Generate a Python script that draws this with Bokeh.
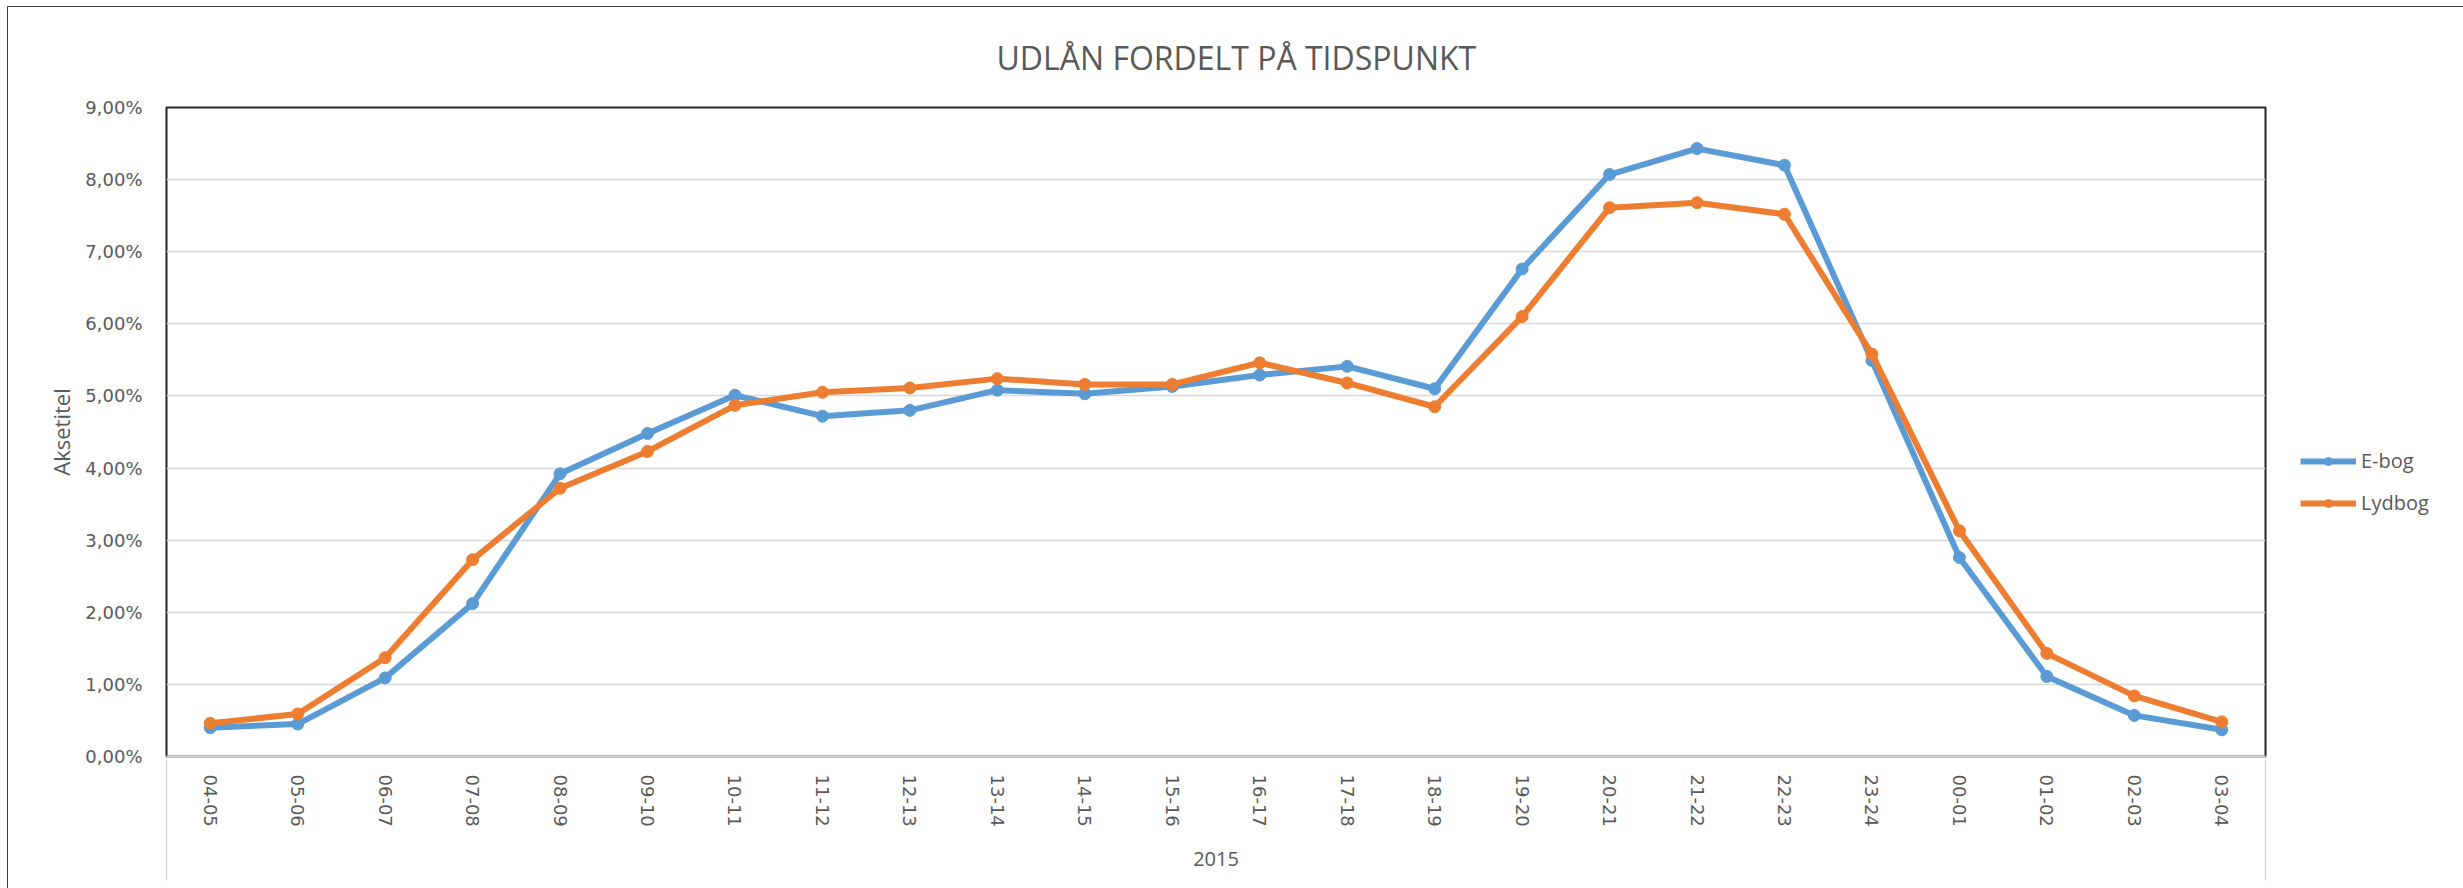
import math
from bokeh.plotting import figure
from bokeh.models import (ColumnDataSource, FactorRange, Range1d, LinearAxis,
                          FixedTicker, CustomJSTickFormatter, Legend, LegendItem)
from bokeh.embed import file_html
from bokeh.resources import INLINE

# ---- data ----
hours = ["04-05", "05-06", "06-07", "07-08", "08-09", "09-10", "10-11", "11-12",
         "12-13", "13-14", "14-15", "15-16", "16-17", "17-18", "18-19", "19-20",
         "20-21", "21-22", "22-23", "23-24", "00-01", "01-02", "02-03", "03-04"]
ebog = [0.40, 0.45, 1.09, 2.12, 3.92, 4.48, 5.01, 4.72, 4.80, 5.08, 5.03, 5.13,
        5.29, 5.41, 5.10, 6.76, 8.07, 8.43, 8.20, 5.49, 2.76, 1.11, 0.57, 0.37]
lydbog = [0.46, 0.59, 1.37, 2.73, 3.72, 4.23, 4.87, 5.05, 5.11, 5.24, 5.16, 5.16,
          5.46, 5.18, 4.85, 6.10, 7.61, 7.68, 7.52, 5.58, 3.13, 1.43, 0.84, 0.48]
year = "2015"
y_ticks = [0, 1, 2, 3, 4, 5, 6, 7, 8, 9]
title_text = "UDLÅN FORDELT PÅ TIDSPUNKT"
y_title = "Aksetitel"
series_names = ["E-bog", "Lydbog"]
colors = ["#5B9BD5", "#ED7D31"]

GREY_TEXT = "#595959"
GRID = "#d9d9d9"

src = ColumnDataSource(dict(hour=hours, ebog=ebog, lydbog=lydbog))

p = figure(width=2455, height=881, x_range=FactorRange(*hours), y_range=Range1d(0, 9),
           output_backend="svg", toolbar_location=None,
           min_border_left=158, min_border_right=198, min_border_top=100, min_border_bottom=132)
p.styles = {"box-shadow": "0 0 0 1px #404040", "margin-left": "8px", "margin-top": "7px"}

p.title.text = title_text
p.title.align = "left"
p.title.offset = 830
p.title.vertical_align = "top"
p.title.text_font = "Open Sans"
p.title.text_font_size = "32px"
p.title.text_font_style = "normal"
p.title.text_color = GREY_TEXT
p.title.standoff = 54

p.outline_line_color = "#262626"
p.outline_line_width = 2

p.xgrid.grid_line_color = None
p.ygrid.grid_line_color = GRID
p.ygrid.grid_line_width = 1.5

# y axis
p.yaxis.ticker = FixedTicker(ticks=y_ticks)
p.yaxis.formatter = CustomJSTickFormatter(code="return tick.toFixed(2).replace('.', ',') + '%';")
p.yaxis.axis_line_color = None
p.yaxis.major_tick_line_color = None
p.yaxis.minor_tick_line_color = None
p.yaxis.major_label_text_font = "DejaVu Sans"
p.yaxis.major_label_text_font_size = "18px"
p.yaxis.major_label_text_color = GREY_TEXT
p.yaxis.major_label_standoff = 18
p.yaxis.axis_label = y_title
p.yaxis.axis_label_text_font = "Open Sans"
p.yaxis.axis_label_text_font_size = "22px"
p.yaxis.axis_label_text_font_style = "normal"
p.yaxis.axis_label_text_color = GREY_TEXT
p.yaxis.axis_label_standoff = 6

# x axis
p.xaxis.axis_line_color = GRID
p.xaxis.axis_line_width = 2
p.xaxis.major_tick_line_color = None
p.xaxis.major_label_orientation = -math.pi / 2
p.xaxis.major_label_text_font = "DejaVu Sans"
p.xaxis.major_label_text_font_size = "18px"
p.xaxis.major_label_text_color = GREY_TEXT
p.xaxis.major_label_standoff = 12
p.xaxis.axis_label = year
p.xaxis.axis_label_text_font = "Open Sans"
p.xaxis.axis_label_text_font_size = "20px"
p.xaxis.axis_label_text_font_style = "normal"
p.xaxis.axis_label_text_color = GREY_TEXT
p.xaxis.axis_label_standoff = 22

# edge separators below the category axis (ticks at the synthetic range edges)
edge_axis = LinearAxis(ticker=FixedTicker(ticks=[0, len(hours)]),
                       formatter=CustomJSTickFormatter(code="return '';"),
                       major_tick_in=109, major_tick_out=12,
                       minor_tick_in=0, minor_tick_out=0,
                       major_tick_line_color=GRID, major_tick_line_width=1.5,
                       axis_line_color=None, major_label_standoff=0)
p.add_layout(edge_axis, "below")

renderers = []
for key, color in zip(["ebog", "lydbog"], colors):
    l = p.line(x="hour", y=key, source=src, line_color=color, line_width=6, line_join="round")
    s = p.scatter(x="hour", y=key, source=src, size=12, fill_color=color, line_color=color)
    renderers.append([l, s])

legend = Legend(items=[LegendItem(label=n, renderers=r) for n, r in zip(series_names, renderers)],
                location=(35, 240), orientation="vertical",
                glyph_width=56, glyph_height=20, label_height=20, label_standoff=5,
                spacing=15, padding=0, margin=-200,
                label_text_font="Open Sans", label_text_font_size="20px",
                label_text_color=GREY_TEXT,
                border_line_color=None, background_fill_alpha=0)
p.add_layout(legend, "right")

open("out.html", "w").write(file_html(p, INLINE))
